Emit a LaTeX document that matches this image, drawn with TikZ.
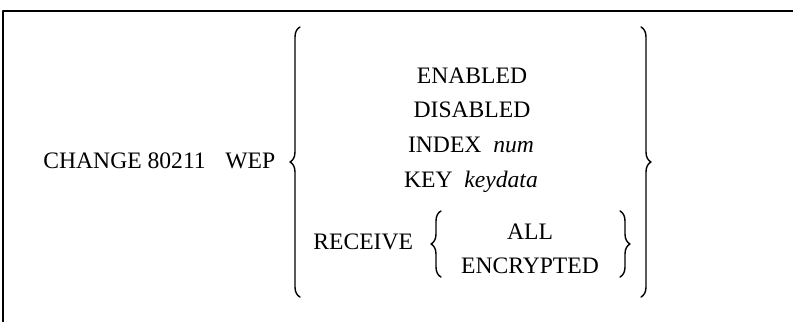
\documentclass[tikz,border=0pt]{standalone}
\usepackage{fontspec}
\setmainfont{Liberation Serif}
\usepackage{tikz}
\usetikzlibrary{decorations.pathreplacing}

\tikzset{
  syn/.style={anchor=base,inner sep=0pt,font=\fontsize{11.8pt}{14pt}\selectfont},
  curly/.style={decorate,decoration={brace,amplitude=5pt},line width=0.7pt},
}

\begin{document}
\begin{tikzpicture}[line cap=round,line join=round,x=0.5pt,y=-0.5pt]
\useasboundingbox (0,0) rectangle (793,322);
% frame
\draw [line width=0.75pt,line cap=butt] (3,322) -- (3,11) -- (793,11);
% command
\node[syn,anchor=base west] (cmd) at (43,168) {CHANGE 80211};
\node[syn,anchor=base west] (wep) at (225,168) {WEP};
% options
\node[syn] (enabled) at (472,83) {ENABLED};
\node[syn] (disabled) at (472,117) {DISABLED};
\node[syn] (index) at (471,152) {INDEX\ \ \textit{num}};
\node[syn] (key) at (471,187) {KEY\ \ \textit{keydata}};
\node[syn,anchor=base west] (receive) at (313,249) {RECEIVE};
\node[syn] (all) at (530,239) {ALL};
\node[syn] (encrypted) at (530,273) {ENCRYPTED};
% braces
\coordinate (ob1) at (300,297);
\coordinate (ob2) at (300,27);
\coordinate (cb1) at (641,27);
\coordinate (cb2) at (641,297);
\coordinate (ib1) at (441,277);
\coordinate (ib2) at (441,211);
\coordinate (jb1) at (620,211);
\coordinate (jb2) at (620,277);
\draw [curly] (ob1) -- (ob2);
\draw [curly] (cb1) -- (cb2);
\draw [curly] (ib1) -- (ib2);
\draw [curly] (jb1) -- (jb2);
\end{tikzpicture}
\end{document}
